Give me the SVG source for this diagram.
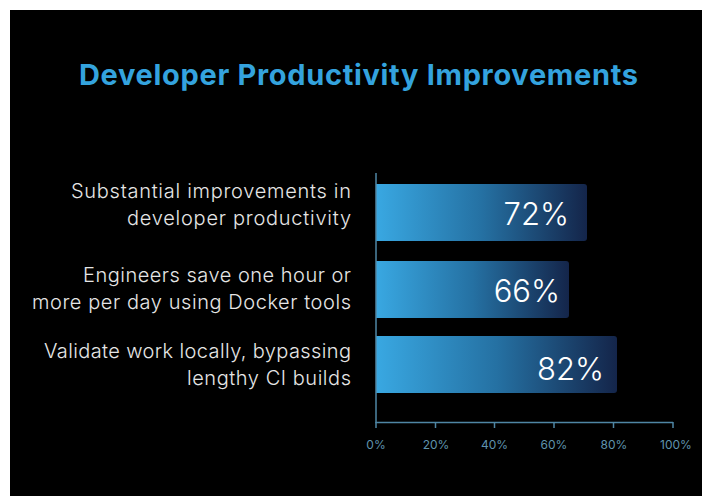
<svg xmlns="http://www.w3.org/2000/svg" width="702" height="496" viewBox="0 0 702 496">
  <style>
    .title { font-family: Inter, "Open Sans", "Liberation Sans", sans-serif; font-weight: 700; font-size: 29px; fill: #34a3de; }
    .label { font-family: Inter, "Open Sans", "Liberation Sans", sans-serif; font-weight: 300; font-size: 20px; fill: #e6e6e6; text-anchor: end; }
    .pct { font-family: Inter, "Open Sans", "Liberation Sans", sans-serif; font-weight: 300; font-size: 31px; fill: #ffffff; text-anchor: end; }
    .tick { font-family: Inter, "Open Sans", "Liberation Sans", sans-serif; font-weight: 400; font-size: 12px; fill: #5f93ad; text-anchor: middle; }
    .axis { stroke: #4f86a5; stroke-width: 1.5; fill: none; }
    .bar { fill: url(#barGrad); }
  </style>
  <defs>
    <linearGradient id="barGrad" x1="0" y1="0" x2="1" y2="0">
      <stop offset="0" stop-color="#39a8e2"/>
      <stop offset="0.5" stop-color="#2571a3"/>
      <stop offset="1" stop-color="#14254a"/>
    </linearGradient>
  </defs>
  <rect x="0" y="0" width="702" height="496" fill="#ffffff"/>
  <rect x="10" y="10" width="692" height="486" fill="#000000"/>
  <text class="title" x="79" y="85" textLength="559" lengthAdjust="spacing">Developer Productivity Improvements</text>

  <g id="bar-productivity">
    <text class="label" x="351" y="198" textLength="280" lengthAdjust="spacing">Substantial improvements in</text>
    <text class="label" x="351" y="225" textLength="224" lengthAdjust="spacing">developer productivity</text>
    <path class="bar" d="M376 184 H584 a3 3 0 0 1 3 3 V238 a3 3 0 0 1 -3 3 H376 Z"/>
    <text class="pct" x="569" y="225">72%</text>
  </g>
  <g id="bar-save-hour">
    <text class="label" x="351" y="282" textLength="268" lengthAdjust="spacing">Engineers save one hour or</text>
    <text class="label" x="351" y="309" textLength="319" lengthAdjust="spacing">more per day using Docker tools</text>
    <path class="bar" d="M376 261 H566 a3 3 0 0 1 3 3 V315 a3 3 0 0 1 -3 3 H376 Z"/>
    <text class="pct" x="560" y="302">66%</text>
  </g>
  <g id="bar-validate">
    <text class="label" x="351" y="358" textLength="307" lengthAdjust="spacing">Validate work locally, bypassing</text>
    <text class="label" x="351" y="385" textLength="164" lengthAdjust="spacing">lengthy CI builds</text>
    <path class="bar" d="M376 336 H614 a3 3 0 0 1 3 3 V390 a3 3 0 0 1 -3 3 H376 Z"/>
    <text class="pct" x="604" y="380">82%</text>
  </g>

  <g id="axes">
    <path class="axis" d="M376 173 V422.5 H673"/>
    <path class="axis" d="M376 422 V428 M435.5 422 V428 M494.5 422 V428 M554 422 V428 M613.5 422 V428 M673 422 V428"/>
    <text class="tick" x="376" y="449" text-anchor="start">0%</text>
    <text class="tick" x="436" y="449">20%</text>
    <text class="tick" x="494.5" y="449">40%</text>
    <text class="tick" x="554" y="449">60%</text>
    <text class="tick" x="614" y="449">80%</text>
    <text class="tick" x="676" y="449">100%</text>
  </g>
</svg>
